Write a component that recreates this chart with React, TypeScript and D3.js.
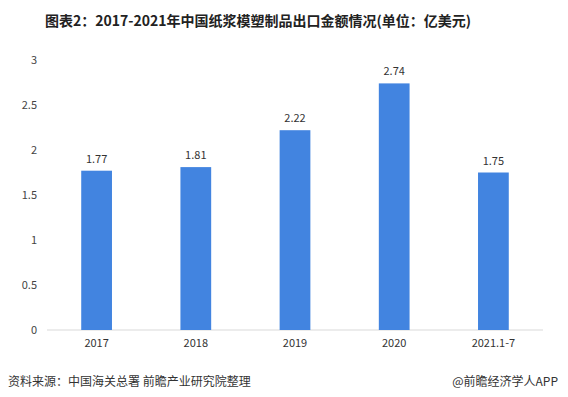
import React from "react";
import * as d3 from "d3";

const categories = ["2017", "2018", "2019", "2020", "2021.1-7"];
const values = [1.77, 1.81, 2.22, 2.74, 1.75];
const yTicks = [0, 0.5, 1, 1.5, 2, 2.5, 3];
const title = "图表2：2017-2021年中国纸浆模塑制品出口金额情况(单位：亿美元)";
const source = "资料来源：中国海关总署 前瞻产业研究院整理";
const credit = "@前瞻经济学人APP";

const W = 568;
const H = 397;
const FONT = "'Noto Sans CJK SC', 'Noto Sans', sans-serif";

export default function App() {
  const x = d3.scaleBand<string>().domain(categories).range([47, 543]).paddingInner(0.69).paddingOuter(0.345);
  const y = d3.scaleLinear().domain([0, 3]).range([330, 60]);
  const fmt = d3.format(".2f");

  return (
    <svg width={W} height={H} style={{ position: "absolute", left: 0, top: 0, background: "#fff" }} fontFamily={FONT}>
      <rect x={0} y={0} width={W} height={H} fill="#fff" />
      <text x={258} y={26} textAnchor="middle" fontSize={14} fontWeight="bold" fill="#222">{title}</text>
      {yTicks.map((t) => (
        <text key={t} x={37} y={y(t)} dy="0.35em" textAnchor="end" fontSize={11} fill="#444">{String(t)}</text>
      ))}
      <line x1={47} x2={543} y1={y(0)} y2={y(0)} stroke="#d9d9d9" strokeWidth={1} />
      {categories.map((c, i) => (
        <g key={c}>
          <rect x={x(c)} y={y(values[i])} width={x.bandwidth()} height={y(0) - y(values[i])} fill="#4284e0" />
          <text x={(x(c) as number) + x.bandwidth() / 2} y={y(values[i]) - 8} textAnchor="middle" fontSize={11} fill="#333">{fmt(values[i])}</text>
          <text x={(x(c) as number) + x.bandwidth() / 2} y={y(0) + 17} textAnchor="middle" fontSize={11} fill="#333">{c}</text>
        </g>
      ))}
      <text x={8} y={386} fontSize={12} fill="#333">{source}</text>
      <text x={558} y={386} textAnchor="end" fontSize={12} fill="#333">{credit}</text>
    </svg>
  );
}
